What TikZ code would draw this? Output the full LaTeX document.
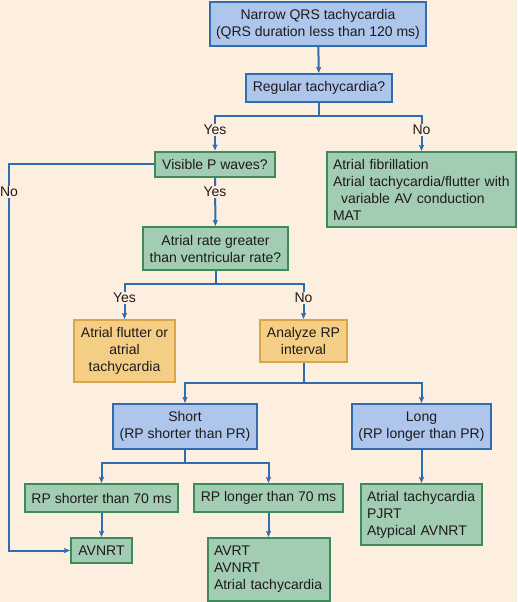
\documentclass[tikz,border=0pt]{standalone}
\usepackage{fontspec}
\setmainfont{Liberation Sans}
\usetikzlibrary{arrows.meta}
\definecolor{bg}{HTML}{FCEFDF}
\definecolor{blueline}{HTML}{2F6DB0}
\definecolor{bluefill}{HTML}{AFC6EC}
\definecolor{greenline}{HTML}{3D8A5C}
\definecolor{greenfill}{HTML}{A3CDB3}
\definecolor{orangeline}{HTML}{D9A548}
\definecolor{orangefill}{HTML}{F5CE85}
\definecolor{ink}{HTML}{1E1A1B}
\begin{document}
\begin{tikzpicture}[x=1pt,y=-1pt,
    every node/.style={font=\fontsize{14}{17}\selectfont, text=ink},
    box/.style={draw, line width=2pt, inner sep=0pt, align=center},
    bluebox/.style={box, draw=blueline, fill=bluefill},
    greenbox/.style={box, draw=greenline, fill=greenfill},
    orangebox/.style={box, draw=orangeline, fill=orangefill},
    listbox/.style={greenbox, align=left, inner xsep=6pt},
    lbl/.style={fill=bg, inner sep=1pt},
    link/.style={draw=blueline, line width=2pt},
    arr/.style={link, -{Stealth[length=6pt,width=5pt,inset=1pt]}}]
      \fill[bg] (0,0) rectangle (517,602);
      \useasboundingbox (0,0) rectangle (517,602);
      \draw
        (318,24) node[bluebox, minimum width=216, minimum height=44] (q)
          {Narrow QRS tachycardia\\(QRS duration less than 120 ms)}
        (319,88) node[bluebox, minimum width=146, minimum height=28] (r)
          {Regular tachycardia?}
        (215,164) node[greenbox, minimum width=120, minimum height=25] (v)
          {Visible P waves?}
        (421.5,189.5) node[listbox, text width=177, minimum height=75] (af)
          {Atrial fibrillation\\Atrial tachycardia/flutter with\\\hspace*{8pt}variable AV conduction\\MAT}
        (215.5,248.5) node[greenbox, minimum width=145, minimum height=43] (ar)
          {Atrial rate greater\\than ventricular rate?}
        (124.5,351) node[orangebox, minimum width=101, minimum height=62] (fl)
          {Atrial flutter or\\atrial\\tachycardia}
        (303.5,341) node[orangebox, minimum width=87, minimum height=42] (an)
          {Analyze RP\\interval}
        (185,426.5) node[bluebox, minimum width=144, minimum height=45] (sh)
          {Short\\(RP shorter than PR)}
        (421.5,426.5) node[bluebox, minimum width=139, minimum height=45] (lo)
          {Long\\(RP longer than PR)}
        (101.5,498) node[greenbox, minimum width=153, minimum height=28] (rs)
          {RP shorter than 70 ms}
        (268.5,498) node[greenbox, minimum width=149, minimum height=28] (rl)
          {RP longer than 70 ms}
        (101.5,550.5) node[greenbox, minimum width=61, minimum height=25] (n)
          {AVNRT}
        (269,569.5) node[listbox, text width=110, minimum height=63] (avr)
          {AVRT\\AVNRT\\Atrial tachycardia}
        (421.5,514.5) node[listbox, text width=109, minimum height=61] (lr)
          {Atrial tachycardia\\PJRT\\Atypical AVNRT};
      \coordinate (side) at (9,164);
      \begin{scope}[arr]
        \draw (q) to (r);
        \draw (r.south) -- ++(0,13) -| (v.north);
        \draw (r.south) -- ++(0,13) -| (af.north);
        \draw (v.west) -- (side) |- (n.west);
        \draw (v) to (ar);
        \draw (ar.south) -- ++(0,13) -| (fl.north);
        \draw (ar.south) -- ++(0,13) -| (an.north);
        \draw (an.south) -- ++(0,20) -| (sh.north);
        \draw (an.south) -- ++(0,20) -| (lo.north);
        \draw (sh.south) -- ++(0,13) -| (rs.north);
        \draw (sh.south) -- ++(0,13) -| (rl.north);
        \draw (rs) to (n);
        \draw (rl.south) -- (rl.south |- avr.north);
        \draw (lo) to (lr);
      \end{scope}
      \node[lbl] (y1) at (v.north |- 0,130) {Yes};
      \node[lbl] (n1) at (af.north |- 0,130) {No};
      \node[lbl] (n2) at (side |- 0,192) {No};
      \node[lbl] (y2) at (v.south |- 0,192) {Yes};
      \node[lbl] (y3) at (fl.north |- 0,298) {Yes};
      \node[lbl] (n3) at (an.north |- 0,298) {No};
    \end{tikzpicture}
\end{document}
